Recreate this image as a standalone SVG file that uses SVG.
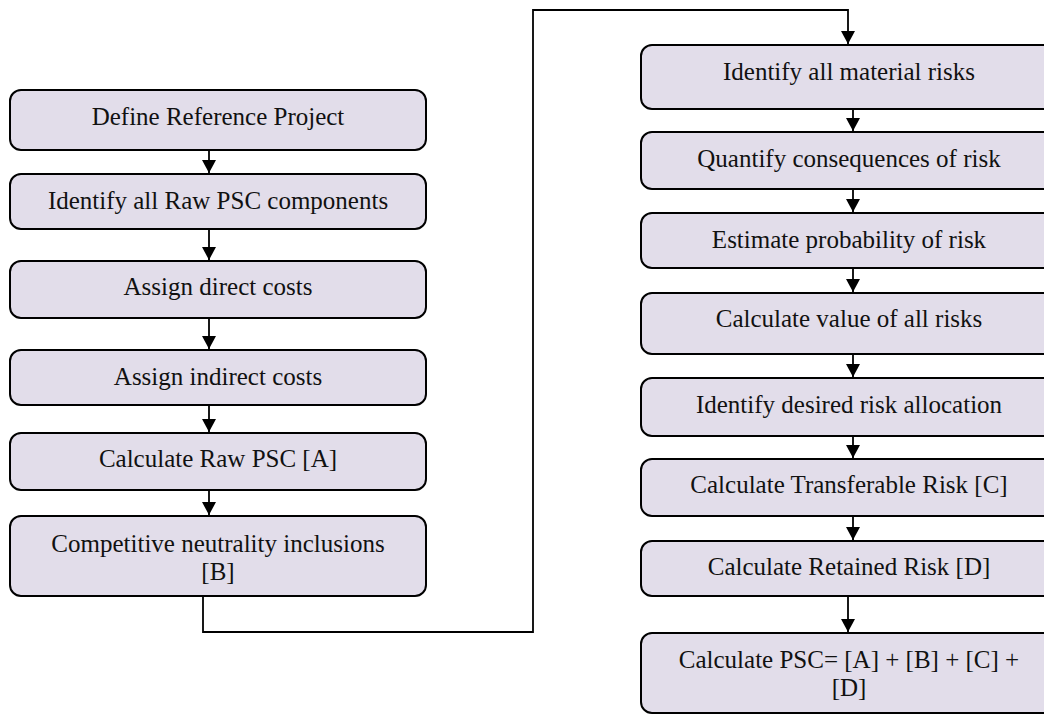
<svg xmlns="http://www.w3.org/2000/svg" width="1044" height="714" viewBox="0 0 1044 714">
  <style>
    .box { fill: #E2DDEA; stroke: #000; stroke-width: 2; }
    .lbl { font-size: 25px; fill: #111; text-anchor: middle; }
    .wire { fill: none; stroke: #000; stroke-width: 1.8; }
  </style>
  <defs>
    <!-- filled triangular head, drawn along +x so orient="auto" follows the line -->
    <marker id="arrow" viewBox="0 0 13 14" refX="13" refY="7" markerWidth="13" markerHeight="14" markerUnits="userSpaceOnUse" orient="auto">
      <path d="M0,0 L13,7 L0,14 Z" fill="#000"/>
    </marker>
  </defs>
  <rect width="1044" height="714" fill="#fff"/>

  <!-- connectors -->
  <g id="connectors">
    <line class="wire" x1="209" y1="150" x2="209" y2="173" marker-end="url(#arrow)"/>
    <line class="wire" x1="209" y1="229" x2="209" y2="260" marker-end="url(#arrow)"/>
    <line class="wire" x1="209" y1="318" x2="209" y2="349" marker-end="url(#arrow)"/>
    <line class="wire" x1="209" y1="405" x2="209" y2="432" marker-end="url(#arrow)"/>
    <line class="wire" x1="209" y1="490" x2="209" y2="515" marker-end="url(#arrow)"/>
    <path class="wire" d="M203,596 V632 H533 V10 H848 V44" marker-end="url(#arrow)"/>
    <line class="wire" x1="853" y1="109" x2="853" y2="131" marker-end="url(#arrow)"/>
    <line class="wire" x1="853" y1="189" x2="853" y2="212" marker-end="url(#arrow)"/>
    <line class="wire" x1="853" y1="268" x2="853" y2="292" marker-end="url(#arrow)"/>
    <line class="wire" x1="853" y1="354" x2="853" y2="377" marker-end="url(#arrow)"/>
    <line class="wire" x1="853" y1="436" x2="853" y2="458" marker-end="url(#arrow)"/>
    <line class="wire" x1="853" y1="516" x2="853" y2="540" marker-end="url(#arrow)"/>
    <line class="wire" x1="848" y1="596" x2="848" y2="632" marker-end="url(#arrow)"/>
  </g>

  <g font-family="'Liberation Serif', Tinos, 'Times New Roman', 'DejaVu Serif', serif">
  <!-- left column: raw PSC -->
  <g id="define-reference">
    <rect class="box" x="10" y="90" width="416" height="60" rx="11"/>
    <text class="lbl" x="218" y="125">Define Reference Project</text>
  </g>
  <g id="identify-components">
    <rect class="box" x="10" y="174" width="416" height="55" rx="11"/>
    <text class="lbl" x="218" y="209">Identify all Raw PSC components</text>
  </g>
  <g id="direct-costs">
    <rect class="box" x="10" y="261" width="416" height="57" rx="11"/>
    <text class="lbl" x="218" y="295">Assign direct costs</text>
  </g>
  <g id="indirect-costs">
    <rect class="box" x="10" y="350" width="416" height="55" rx="11"/>
    <text class="lbl" x="218" y="385">Assign indirect costs</text>
  </g>
  <g id="raw-psc">
    <rect class="box" x="10" y="433" width="416" height="57" rx="11"/>
    <text class="lbl" x="218" y="467">Calculate Raw PSC [A]</text>
  </g>
  <g id="competitive-neutrality">
    <rect class="box" x="10" y="516" width="416" height="80" rx="11"/>
    <text class="lbl" x="218" y="552">Competitive neutrality inclusions</text>
    <text class="lbl" x="218" y="580">[B]</text>
  </g>

  <!-- right column: risk -->
  <g id="material-risks">
    <rect class="box" x="641" y="45" width="416" height="64" rx="11"/>
    <text class="lbl" x="849" y="80">Identify all material risks</text>
  </g>
  <g id="consequences">
    <rect class="box" x="641" y="132" width="416" height="57" rx="11"/>
    <text class="lbl" x="849" y="167">Quantify consequences of risk</text>
  </g>
  <g id="probability">
    <rect class="box" x="641" y="213" width="416" height="55" rx="11"/>
    <text class="lbl" x="849" y="248">Estimate probability of risk</text>
  </g>
  <g id="risk-value">
    <rect class="box" x="641" y="293" width="416" height="61" rx="11"/>
    <text class="lbl" x="849" y="327">Calculate value of all risks</text>
  </g>
  <g id="risk-allocation">
    <rect class="box" x="641" y="378" width="416" height="58" rx="11"/>
    <text class="lbl" x="849" y="413">Identify desired risk allocation</text>
  </g>
  <g id="transferable-risk">
    <rect class="box" x="641" y="459" width="416" height="57" rx="11"/>
    <text class="lbl" x="849" y="493">Calculate Transferable Risk [C]</text>
  </g>
  <g id="retained-risk">
    <rect class="box" x="641" y="541" width="416" height="55" rx="11"/>
    <text class="lbl" x="849" y="575">Calculate Retained Risk [D]</text>
  </g>
  <g id="total-psc">
    <rect class="box" x="641" y="633" width="416" height="80" rx="11"/>
    <text class="lbl" x="849" y="668">Calculate PSC= [A] + [B] + [C] +</text>
    <text class="lbl" x="849" y="696">[D]</text>
  </g>
  </g>
</svg>
